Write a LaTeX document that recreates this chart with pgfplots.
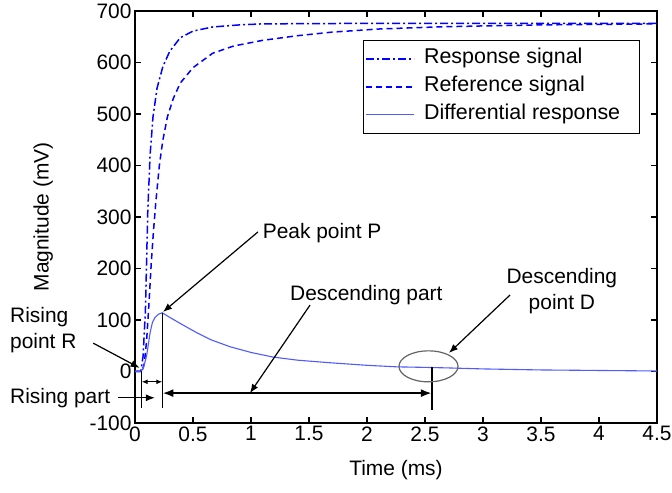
\documentclass[border=0pt]{standalone}
\usepackage{pgfplots}
\pgfplotsset{compat=1.18}
\usepackage{fontspec}
\setmainfont{Liberation Sans}
\usetikzlibrary{arrows.meta}
\definecolor{dblue}{RGB}{0,0,255}
\definecolor{lblue}{RGB}{80,90,255}
\definecolor{egray}{RGB}{100,100,100}
\newcommand{\ff}{\fontsize{21}{26}\selectfont}
\begin{document}
\begin{tikzpicture}
\begin{axis}[
  name=ax,
  scale only axis,
  width=522bp, height=412bp,
  xmin=0, xmax=4.5, ymin=-100, ymax=700,
  xtick={0,0.5,1,1.5,2,2.5,3,3.5,4,4.5},
  xticklabels={0,0.5,1,1.5,2,2.5,3,3.5,4,4.5},
  ytick={-100,0,100,200,300,400,500,600,700},
  yticklabels={-100,0,100,200,300,400,500,600,700},
  /pgf/number format/assume math mode=true,
  tick align=inside,
  major tick length=6bp,
  axis line style={line width=1.3bp, black},
  tick style={line width=1.2bp, black},
  every tick label/.append style={font=\ff},
  xlabel={Time (ms)}, ylabel={Magnitude (mV)},
  label style={font=\ff},
  xlabel style={at={(axis description cs:0.5,-0.114)}, anchor=center},
  ylabel style={at={(axis description cs:-0.176,0.5)}, anchor=center},
  clip=false,
  legend image code/.code={\draw[#1] (0bp,0bp) -- (48bp,0bp); \path (52bp,0bp);},
  legend cell align=left,
  legend style={at={(0.967,0.93)}, anchor=north east, draw, line width=1.2bp,
    font=\fontsize{21.5}{26}\selectfont, inner xsep=2bp, inner ysep=4.5bp, row sep=0bp,
    nodes={inner xsep=5bp, inner ysep=4bp, text height=15bp, text depth=5bp}},
]
\addplot[color=dblue, line width=1.5bp, dash pattern=on 8bp off 3bp on 2bp off 3bp] coordinates {
(0,0) (0.05,0) (0.07,30) (0.09,120) (0.11,310) (0.13,420) (0.155,494) (0.19,550)
(0.24,592) (0.3,622) (0.39,648) (0.5,661) (0.67,669) (0.9,673) (1.1,675) (2,676) (3,676) (4.5,676)};
\addlegendentry{Response signal}
\addplot[color=dblue, line width=1.5bp, dash pattern=on 6bp off 4bp] coordinates {
(0,0) (0.06,0) (0.08,15) (0.1,60) (0.12,130) (0.14,210) (0.16,275) (0.18,330) (0.21,400)
(0.24,449) (0.28,495) (0.33,530) (0.39,560) (0.5,590) (0.67,618) (0.85,632) (1.1,643)
(1.4,652) (1.7,659) (2.1,665) (2.6,669) (3,671) (3.5,673) (4,674) (4.5,675)};
\addlegendentry{Reference signal}
\addplot[color=lblue, line width=1.1bp] coordinates {
(0,0) (0.05,0) (0.07,5) (0.1,30) (0.13,75) (0.15,95) (0.17,104) (0.2,111) (0.235,114)
(0.3,105) (0.4,92) (0.535,75) (0.65,62) (0.82,48) (1.0,37) (1.19,28) (1.4,22) (1.68,17)
(2.0,12) (2.26,9) (2.5,8) (2.69,7) (3.0,5) (3.5,3) (4,2) (4.5,1)};
\addlegendentry{Differential response\hspace*{12bp}}

% annotations
\node[font=\ff, anchor=west, align=left, inner sep=0pt] at (axis cs:-1.078,80) {Rising\\point R};
\draw[-{Latex[length=9bp,width=7bp]}, line width=1.2bp] (axis cs:-0.36,55) -- (axis cs:0.04,7);
\node[font=\ff, anchor=west, inner sep=0pt] at (axis cs:-1.078,-51) {Rising part};
\draw[-{Latex[length=9bp,width=7bp]}, line width=1.2bp] (axis cs:-0.147,-51) -- (axis cs:0.172,-51);
\draw[line width=1.1bp] (axis cs:0.058,0) -- (axis cs:0.058,-71);
\draw[line width=1.1bp] (axis cs:0.235,114) -- (axis cs:0.235,-71);
\draw[{Latex[length=6bp,width=5bp]}-{Latex[length=6bp,width=5bp]}, line width=1bp] (axis cs:0.058,-20) -- (axis cs:0.235,-20);
\draw[{Latex[length=11bp,width=8bp]}-{Latex[length=11bp,width=8bp]}, line width=2.4bp] (axis cs:0.235,-42) -- (axis cs:2.56,-42);
\draw[line width=1.1bp] (axis cs:2.56,8) -- (axis cs:2.56,-75);
\draw[egray, line width=1.2bp] (axis cs:2.53,10) ellipse [x radius=29.5bp, y radius=15.5bp];
\node[font=\ff, anchor=west, inner sep=0pt] at (axis cs:1.10,269) {Peak point P};
\draw[-{Latex[length=9bp,width=7bp]}, line width=1.2bp] (axis cs:1.06,271) -- (axis cs:0.241,115.5);
\node[font=\ff, anchor=west, inner sep=0pt] at (axis cs:1.336,148.5) {Descending part};
\draw[-{Latex[length=9bp,width=7bp]}, line width=1.2bp] (axis cs:1.509,129) -- (axis cs:0.991,-42);
\node[font=\ff, align=center, inner sep=0pt] at (axis cs:3.68,156) {Descending\\point D};
\draw[-{Latex[length=9bp,width=7bp]}, line width=1.2bp] (axis cs:3.233,148.5) -- (axis cs:2.707,36);
\end{axis}
\pgfresetboundingbox
\path[use as bounding box] ([xshift=-135bp,yshift=-70bp]ax.south west) rectangle ([xshift=15bp,yshift=11bp]ax.north east);
\end{tikzpicture}
\end{document}
